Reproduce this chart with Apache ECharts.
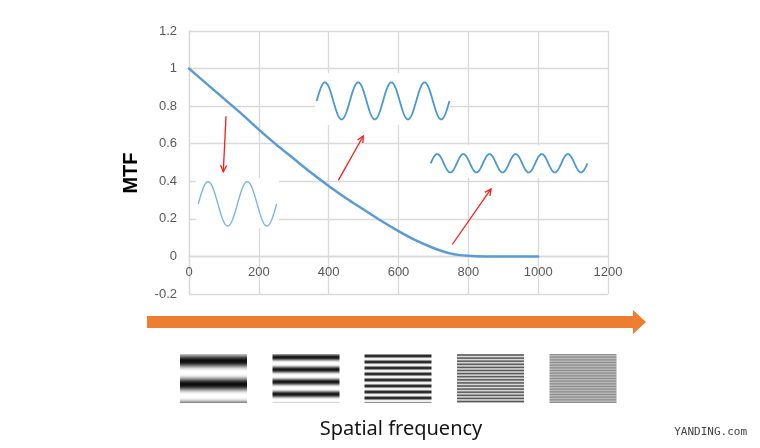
<!DOCTYPE html>
<html>
<head>
<meta charset="utf-8">
<script src="https://cdn.jsdelivr.net/npm/echarts@6/dist/echarts.min.js"></script>
<style>
html,body{margin:0;padding:0;background:#fff;}
#c{width:760px;height:448px;}
</style>
</head>
<body>
<div id="c"></div>
<script>
// ---- data ----
const freq = [0, 50, 100, 150, 200, 250, 300, 350, 400, 450, 500, 550, 600, 650, 700, 750, 800, 850, 900, 950, 1000];
const mtf  = [1.0, 0.92, 0.84, 0.76, 0.675, 0.595, 0.52, 0.445, 0.375, 0.31, 0.25, 0.19, 0.135, 0.085, 0.045, 0.015, 0.003, 0, 0, 0, 0];
const yTickLabels = ['-0.2', '0', '0.2', '0.4', '0.6', '0.8', '1', '1.2'];
const xTickLabels = ['0', '200', '400', '600', '800', '1000', '1200'];

// annotation: sine insets (data coords), arrows (data coords)
const waveCycles = [2, 4, 6];
const waveXRange = [[26.6, 251.1], [365.7, 746], [692.2, 1141.3]];
const waveCenter = [0.28, 0.828, 0.496];
const waveAmp = [0.118, 0.0985, 0.0487];
const waveBoxX = [[20, 258], [361, 747.5], [684.5, 1151.3]];
const waveBoxY = [[0.151, 0.4175], [0.6996, 0.9764], [0.4175, 0.5932]];
const arrowFrom = [[106, 0.746], [427.6, 0.405], [754, 0.0635]];
const arrowTo = [[98.2, 0.4505], [499.2, 0.641], [865, 0.359]];

// bar-pattern illustration (periods in px)
const patternPeriods = [23.3, 12.3, 6, 3.1, 1.6];
const patternOffsets = [7, 3.3, 2, 1, 0.5];

const chart = echarts.init(document.getElementById('c'), null, {renderer: 'canvas'});

const gridColor = '#d9d9d9';
const gridTop = 31, gridBottom = 154, plotH = 448 - gridTop - gridBottom;
const yMin = -0.2, yMax = 1.2;
const option = {
  animation: false,
  backgroundColor: '#fff',
  grid: {left: 189, right: 152, top: gridTop, bottom: gridBottom, containLabel: false},
  xAxis: {
    type: 'value', min: 0, max: 1200, interval: 200,
    // axis sits on the y = 0 line
    offset: -plotH * (0 - yMin) / (yMax - yMin),
    axisLine: {show: true, onZero: false, lineStyle: {color: gridColor, width: 1.3}},
    axisTick: {show: false},
    splitLine: {show: true, lineStyle: {color: gridColor, width: 1.3}},
    axisLabel: {
      color: '#595959', fontSize: 13, margin: 9, fontFamily: 'Liberation Sans',
      formatter: v => xTickLabels[Math.round(v / 200)]
    }
  },
  yAxis: {
    type: 'value', min: yMin, max: yMax, interval: 0.2,
    axisLine: {show: true, lineStyle: {color: gridColor, width: 1.3}},
    axisTick: {show: false},
    splitLine: {show: true, lineStyle: {color: gridColor, width: 1.3}},
    axisLabel: {
      color: '#595959', fontSize: 13, margin: 12, fontFamily: 'Liberation Sans',
      formatter: v => yTickLabels[Math.round((v + 0.2) / 0.2)]
    }
  },
  series: [{
    type: 'line',
    data: freq.map((f, i) => [f, mtf[i]]),
    smooth: 0.3,
    showSymbol: false,
    lineStyle: {color: '#5b9bd5', width: 2.5, cap: 'round'},
    z: 3
  }]
};
chart.setOption(option);

function px(p) { return chart.convertToPixel({gridIndex: 0}, p); }

function hexToRgb(h) {
  h = h.replace('#', '');
  return [parseInt(h.substr(0, 2), 16), parseInt(h.substr(2, 2), 16), parseInt(h.substr(4, 2), 16)];
}
function mix(a, b, t) {
  const A = hexToRgb(a), B = hexToRgb(b);
  return 'rgb(' + A.map((v, i) => Math.round(v + (B[i] - v) * t)).join(',') + ')';
}

const g = [];

// white boxes behind the sine insets
waveBoxX.forEach((bx, i) => {
  const p1 = px([bx[0], waveBoxY[i][1]]);
  const p2 = px([bx[1], waveBoxY[i][0]]);
  g.push({type: 'rect', z: 5, shape: {x: p1[0], y: p1[1], width: p2[0] - p1[0], height: p2[1] - p1[1]},
    style: {fill: '#ffffff'}, silent: true});
});

// sine insets
const waveColors = ['#7db5e2', '#4a98d3', '#4a98d3'];
const waveWidths = [1.4, 1.8, 1.8];
waveCycles.forEach((cyc, i) => {
  const N = 240;
  const pts = [];
  for (let k = 0; k <= N; k++) {
    const t = k / N;
    const xv = waveXRange[i][0] + (waveXRange[i][1] - waveXRange[i][0]) * t;
    const yv = waveCenter[i] + waveAmp[i] * Math.sin(2 * Math.PI * cyc * t);
    pts.push(px([xv, yv]));
  }
  g.push({type: 'polyline', z: 6, shape: {points: pts, smooth: 0},
    style: {stroke: waveColors[i], lineWidth: waveWidths[i], fill: null}, silent: true});
});

// red arrows
arrowFrom.forEach((a, i) => {
  const s = px(a), e = px(arrowTo[i]);
  const ang = Math.atan2(e[1] - s[1], e[0] - s[0]);
  const L = 7, w = 0.45;
  const l1 = [e[0] - L * Math.cos(ang - w), e[1] - L * Math.sin(ang - w)];
  const l2 = [e[0] - L * Math.cos(ang + w), e[1] - L * Math.sin(ang + w)];
  g.push({type: 'line', z: 7, shape: {x1: s[0], y1: s[1], x2: e[0], y2: e[1]},
    style: {stroke: '#ff1a1a', lineWidth: 1.3}, silent: true});
  g.push({type: 'polyline', z: 7, shape: {points: [l1, e, l2]},
    style: {stroke: '#ff1a1a', lineWidth: 1.3, fill: null}, silent: true});
});

// orange arrow
g.push({type: 'polygon', z: 5, shape: {points: [[147, 316], [633, 316], [633, 310], [646, 322], [633, 334], [633, 328], [147, 328]]},
  style: {fill: '#ed7d31'}, silent: true});

// stripe patterns
const sqX = [180, 272.5, 364.5, 457, 549.5];
const darkC = ['#0d0d0d', '#161616', '#1e1e1e', '#555555', '#8f8f8f'];
const lightC = ['#ffffff', '#ffffff', '#ffffff', '#dedede', '#bcbcbc'];
const sqY = 354, sqW = 67, sqH = 49;
patternPeriods.forEach((P, i) => {
  const stops = [];
  const step = Math.min(0.5, P / 10);
  for (let y = 0; y <= sqH + 1e-6; y += step) {
    let v = 0.5 + 0.5 * Math.cos(2 * Math.PI * (y - patternOffsets[i]) / P);
    if (i < 2) v = Math.pow(v, 1.4);
    stops.push({offset: Math.min(1, y / sqH), color: mix(lightC[i], darkC[i], v)});
  }
  g.push({type: 'rect', z: 5, shape: {x: sqX[i], y: sqY, width: sqW, height: sqH},
    style: {fill: new echarts.graphic.LinearGradient(0, 0, 0, 1, stops)}, silent: true});
});

// texts
g.push({type: 'text', z: 8, x: 131, y: 173, rotation: Math.PI / 2,
  style: {text: 'MTF', font: 'bold 20px "Liberation Sans", Arial, sans-serif', fill: '#000',
    textAlign: 'center', textVerticalAlign: 'middle'}, silent: true});
g.push({type: 'text', z: 8, x: 401, y: 429,
  style: {text: 'Spatial frequency', font: '20px "Noto Sans", sans-serif', fill: '#151515',
    textAlign: 'center', textVerticalAlign: 'middle'}, silent: true});
g.push({type: 'text', z: 8, x: 747, y: 432,
  style: {text: 'YANDING.com', font: '11px "DejaVu Sans Mono", monospace', fill: '#444',
    textAlign: 'right', textVerticalAlign: 'middle'}, silent: true});

chart.setOption({graphic: {elements: g}});
</script>
</body>
</html>
